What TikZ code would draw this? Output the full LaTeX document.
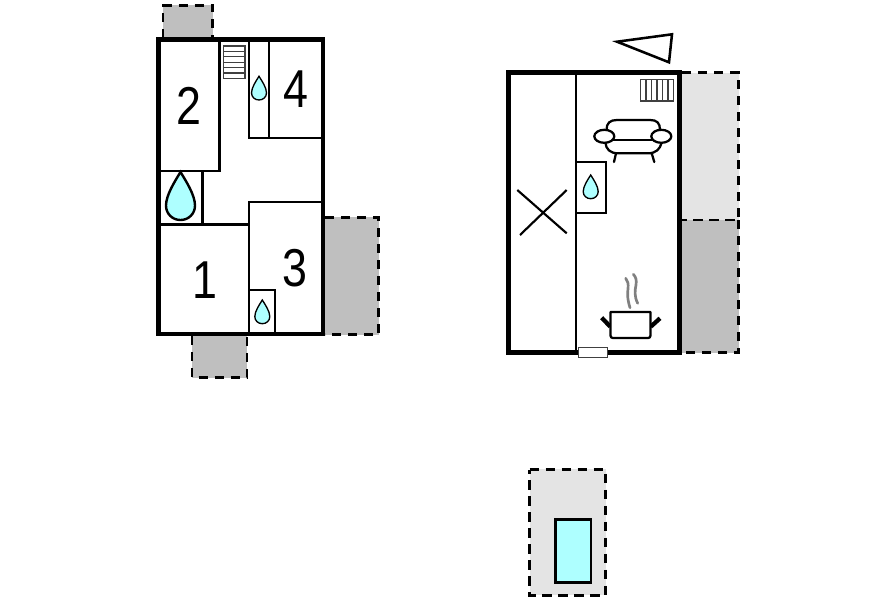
\documentclass[tikz,border=0pt]{standalone}
\usepackage{fontspec}
\setmainfont{Liberation Sans}
\definecolor{darkarea}{HTML}{BFBFBF}
\definecolor{lightarea}{HTML}{E4E4E4}
\definecolor{aqua}{HTML}{AEFFFF}
\tikzset{
  outerwall/.style={line width=3.4pt,line cap=rect,line join=miter},
  innerwall/.style={line width=1.7pt,line cap=butt},
  dashline/.style={line width=2pt,dash pattern=on 6.8pt off 5.2pt},
  fixture/.style={line width=1pt,draw=black!75,fill=white},
  furn/.style={line width=1.7pt,draw=black,line cap=round,line join=round},
  dropstyle/.style={line width=1pt,draw=black,fill=aqua},
  roomno/.style={font=\fontsize{40}{40}\selectfont,inner sep=0pt,xscale=.84},
}
\newcommand{\waterdrop}[5]{%
  \begin{scope}[shift={(#1,#2)},xscale=#4,yscale=#3]
    \path[dropstyle,line width=#5pt] (0,0) .. controls (-.2,.2) and (-.5,.48) .. (-.5,.7)
      .. controls (-.5,.87) and (-.28,1) .. (0,1)
      .. controls (.28,1) and (.5,.87) .. (.5,.7)
      .. controls (.5,.48) and (.2,.2) .. cycle;
  \end{scope}}
\begin{document}
\begin{tikzpicture}[x=.75pt,y=-.75pt]
\useasboundingbox[fill=white] (0,0) rectangle (896,597);
% grey areas, left plan
\fill[darkarea] (163,5) rectangle (212.7,38);
\fill[darkarea] (325,217.3) rectangle (378.7,334.7);
\fill[darkarea] (191.7,336) rectangle (247,377.7);
\draw[dashline] (163,38) -- (163,5.5) -- (212.7,5.5) -- (212.7,38);
\draw[dashline] (325,217.5) -- (378.5,217.5) -- (378.5,334.5) -- (325,334.5);
\draw[dashline] (192,336) -- (192,377.5) -- (247,377.5) -- (247,336);
% grey areas, right plan
\fill[lightarea] (681,72.5) rectangle (739,220);
\fill[darkarea] (681,220) rectangle (739,352.5);
\draw[dashline] (682,72.5) -- (738.5,72.5) -- (738.5,220) -- (682,220);
\draw[dashline] (738.5,220) -- (738.5,352.5) -- (682,352.5);
% pool area
\fill[lightarea] (529.5,469) rectangle (606,595);
\draw[dashline] (529.5,469.5) -- (605.5,469.5) -- (605.5,595.5) -- (529.5,595.5) -- cycle;
\draw[line width=1.9pt,fill=aqua] (555.5,519.7) rectangle (591,582.3);
% left plan inner walls
\draw[innerwall] (219.5,39.5) -- (219.5,171) -- (158.5,171);
\draw[innerwall] (202.5,171) -- (202.5,224.5);
\draw[innerwall] (158.5,224.5) -- (249,224.5);
\draw[innerwall] (323,201.7) -- (249,201.7) -- (249,334);
\draw[innerwall] (249,290) -- (274.7,290) -- (274.7,334);
\draw[innerwall] (248.7,39.5) -- (248.7,138) -- (323,138);
\draw[innerwall] (269,39.5) -- (269,138);
% stairs
\draw[fixture] (223.3,46) rectangle (245,78.3);
\foreach \yy in {51.4,56.8,62.2,67.6,73}{\draw[line width=1pt,black!75] (223.3,\yy) -- (245,\yy);}
% left plan outer wall
\draw[outerwall] (158.5,39.5) rectangle (323,334);
% drops
\waterdrop{259}{76.3}{23.7}{15}{1}
\waterdrop{180.5}{172}{48}{29}{1.8}
\waterdrop{262.3}{300}{23.7}{15}{1}
\waterdrop{590.7}{175}{23.7}{15}{1}
% room numbers
\node[roomno] (roomtwo) at (189.3,105.7) {2};
\node[roomno] (roomfour) at (296,89.3) {4};
\node[roomno] (roomone) at (205,280) {1};
\node[roomno] (roomthree) at (295,268.3) {3};
% right plan walls
\draw[innerwall] (575.7,72) -- (575.7,352);
\draw[innerwall] (575.7,162.3) -- (605.7,162.3) -- (605.7,212.7) -- (575.7,212.7);
\draw[outerwall] (508.7,72.3) rectangle (679.3,352.3);
% door
\draw[fixture] (578.3,347.3) rectangle (607.3,357.3);
% stair cross
\draw[line width=1.6pt] (517.3,190) -- (566.7,233.3);
\draw[line width=1.6pt] (520,235) -- (566.7,190);
% radiator
\draw[fixture] (640.7,79.3) rectangle (673.3,101);
\foreach \xx in {646.1,651.6,657,662.4,667.9}{\draw[line width=1pt,black!75] (\xx,79.3) -- (\xx,101);}
% north arrow
\draw[line width=1.9pt,line join=miter] (617,41.7) -- (672,34.3) -- (669,62.3) -- cycle;
% sofa
\draw[furn] (606.5,130) .. controls (606.5,123) and (610,120) .. (617,120) -- (650,120) .. controls (657,120) and (660,123) .. (660,130);
\draw[furn] (613,140) -- (652,140);
\draw[furn] (605.5,143) .. controls (606,149) and (610,153.3) .. (618,153.3) -- (648,153.3) .. controls (656,153.3) and (660,149) .. (661.5,143);
\draw[furn] (616,153.3) -- (614,162);
\draw[furn] (651.7,153.3) -- (654.3,162);
\draw[furn,fill=white] (604.3,136.3) ellipse [x radius=10,y radius=6.5];
\draw[furn,fill=white] (661.3,136.3) ellipse [x radius=10,y radius=6.5];
% pot
\draw[line width=3.2pt] (601.7,317.7) -- (610.3,326.7);
\draw[line width=3.2pt] (650.7,326.7) -- (660,318.3);
\draw[furn,fill=white] (610.5,312) -- (650.5,312) -- (650.5,335.5) .. controls (650.5,337.3) and (649.5,338) .. (648,338) -- (613,338) .. controls (611.5,338) and (610.5,337.3) .. (610.5,335.5) -- cycle;
% steam
\draw[line width=2pt,black!50,line cap=round] (630,307.7) .. controls (627,298) and (627.5,293) .. (628,289) .. controls (628.5,284) and (628,281) .. (625.7,278.3);
\draw[line width=2pt,black!50,line cap=round] (637.7,303.3) .. controls (634,296) and (635,290) .. (636,285) .. controls (636.7,280) and (636,277) .. (633.3,274.3);
\end{tikzpicture}
\end{document}
